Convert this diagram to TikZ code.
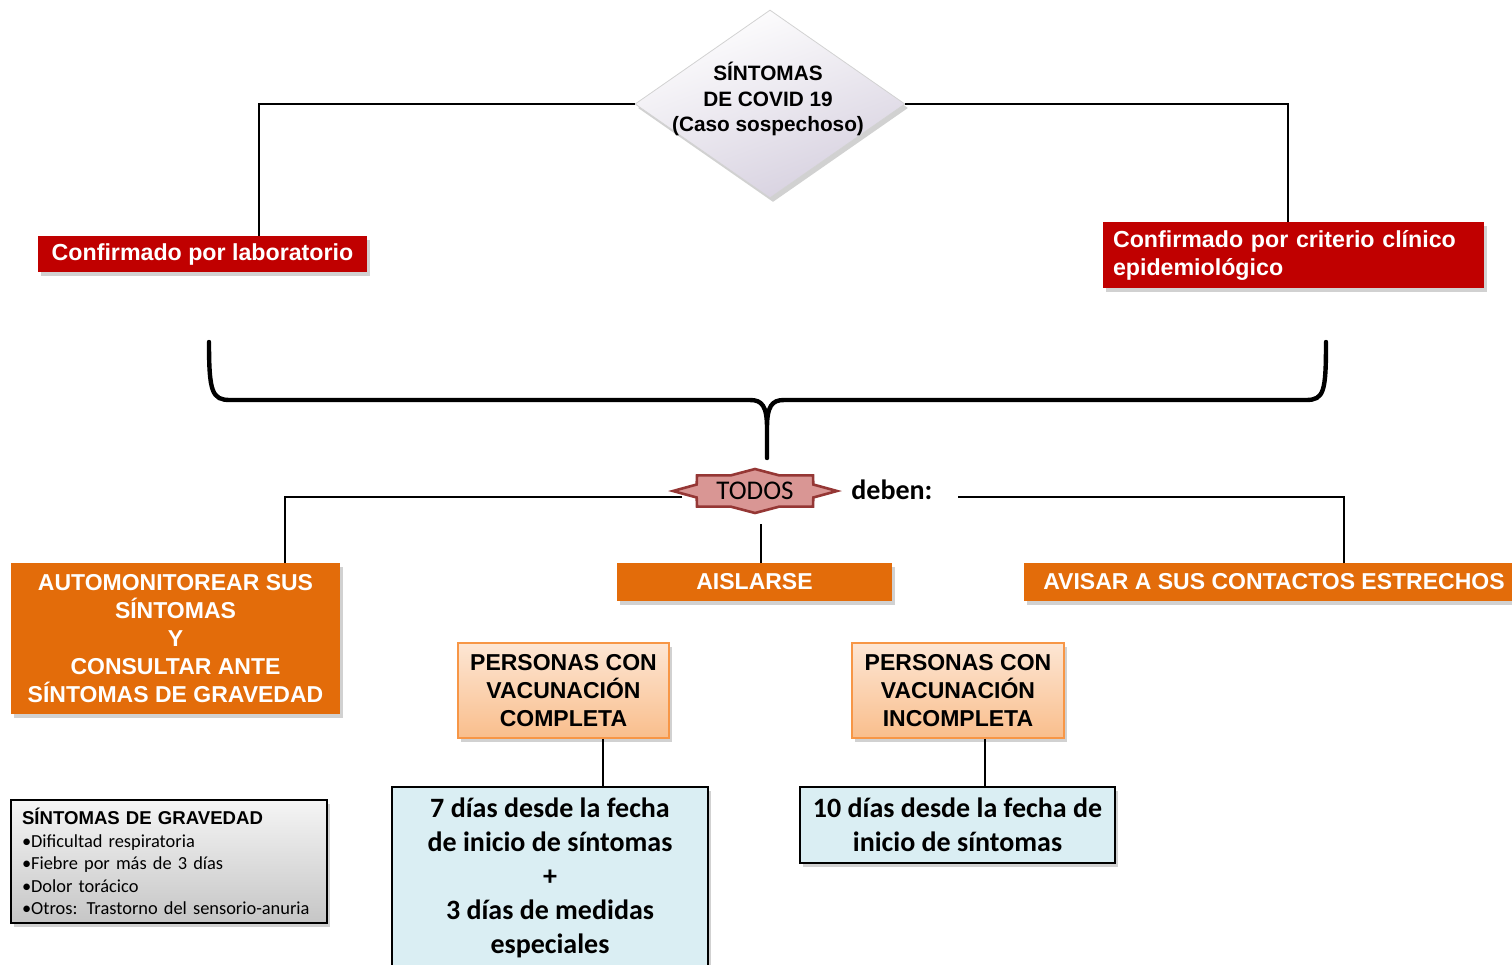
\documentclass[tikz,border=0pt]{standalone}
\usepackage{fontspec}
\setmainfont{Liberation Sans}
\newfontfamily\arial{Liberation Sans}
\newfontfamily\calibri{Carlito}
\usetikzlibrary{positioning,calc,shapes.geometric,shadows}

\definecolor{rojo}{HTML}{C00000}
\definecolor{naranja}{HTML}{E36C0A}
\definecolor{bordedurazno}{HTML}{F79646}
\definecolor{durazno1}{HTML}{FDE6D4}
\definecolor{durazno2}{HTML}{F9BE8C}
\definecolor{celeste}{HTML}{DAEEF3}
\definecolor{rosa}{HTML}{D99694}
\definecolor{granate}{HTML}{953735}
\definecolor{lavanda}{HTML}{D6D0DF}

\tikzset{
	linea/.style={draw=black, line width=1pt},
	sombra/.style={drop shadow={shadow xshift=1.5pt, shadow yshift=-2pt, opacity=0.3, fill=black!60}},
	caja/.style={rectangle, inner sep=0pt, align=center},
	rojabox/.style={caja, fill=rojo, text=white, font=\bfseries\fontsize{11.6}{14}\selectfont, sombra},
	naranjabox/.style={caja, fill=naranja, text=white, font=\bfseries\fontsize{11.5}{14}\selectfont, sombra},
	duraznobox/.style={caja, top color=durazno1, bottom color=durazno2, draw=bordedurazno, line width=0.75pt, font=\bfseries\fontsize{11.5}{14}\selectfont, sombra},
	celestebox/.style={caja, fill=celeste, draw=black, line width=1pt, font=\calibri\bfseries\fontsize{14}{17}\selectfont, sombra},
}

\begin{document}
\begin{tikzpicture}[x=0.5pt, y=-0.5pt]
	\useasboundingbox (0,0) rectangle (1512,965);
	\def \ratio {0.77} % inner points of the star
	
	% top decision
	\node[diamond, minimum width=135pt, minimum height=94pt, inner sep=0pt, top color=white, bottom color=lavanda, shading angle=20, draw=gray!35, line width=0.4pt, sombra] (sintomas) at (770,104) {};
	\node[align=center, font=\bfseries\fontsize{10.4}{12.75}\selectfont] (sintomastxt) at (768,99) {SÍNTOMAS\\DE COVID 19\\(Caso sospechoso)};
	
	\node[rojabox, minimum width=164.5pt, minimum height=18pt] (lab) at (202.5,254) {Confirmado por laboratorio};
	\node[rojabox, text width=180.5pt, inner xsep=5pt, minimum height=33pt, align=left] (clinico) at (1293.5,255) {Confirmado por criterio clínico\\epidemiológico};
	
	\draw[linea] (sintomas.west) -| ([xshift=28.25pt]lab.north);
	\draw[linea] (sintomas.east) -| ([xshift=-2.75pt]clinico.north);
	
	% brace
	\coordinate (llaveizq) at (209,342);
	\coordinate (llaveder) at (1326,342);
	\coordinate (punta) at (767,458);
	\draw[line width=2.2pt, line cap=round] (llaveizq) .. controls (209,392) and (212,400) .. (230,400) -- (750,400) .. controls (762,400) and (767,406) .. (767,428) -- (punta)
		(767,428) .. controls (767,406) and (772,400) .. (784,400) -- (1306,400) .. controls (1324,400) and (1326,392) .. (llaveder);
	
	% star
	\coordinate (todosc) at (755,491);
	\draw[fill=rosa, draw=granate, line width=1.3pt] ($(todosc)+(0:82 and 22)$)
		\foreach \k [evaluate=\k as \rad using {1-(1-\ratio)*mod(\k,2)}] in {1,...,15} { -- ($(todosc)+({22.5*\k}:{82*\rad} and {22*\rad})$) } -- cycle;
	\node[font=\calibri\fontsize{13.5}{16}\selectfont, inner sep=1pt] (todos) at (todosc) {TODOS};
	\node[font=\calibri\bfseries\fontsize{14}{16}\selectfont, inner sep=1pt, base right=26.5pt of todos] (deben) {deben:};
	
	\node[naranjabox, minimum width=164.5pt, minimum height=75.5pt] (automon) at (175.5,638.5) {AUTOMONITOREAR SUS\\SÍNTOMAS\\Y\\CONSULTAR ANTE\\SÍNTOMAS DE GRAVEDAD};
	\node[naranjabox, minimum width=137.5pt, minimum height=19pt] (aislarse) at (754.5,582) {AISLARSE};
	\node[naranjabox, minimum width=250pt, minimum height=19pt] (avisar) at (1274,582) {AVISAR A SUS CONTACTOS ESTRECHOS};
	
	\coordinate (ramaizq) at (682,497);
	\coordinate (ramader) at (958,497);
	\coordinate (ramacentro) at (761,524);
	\draw[linea] (ramaizq) -| ([xshift=54.75pt]automon.north);
	\draw[linea] (ramader) -| ([xshift=35pt]avisar.north);
	\draw[linea] (ramacentro) -- (ramacentro |- aislarse.north);
	
	\node[duraznobox, minimum width=105.5pt, minimum height=47.5pt] (completa) at (563.5,690.5) {PERSONAS CON\\VACUNACIÓN\\COMPLETA};
	\node[duraznobox, minimum width=106pt, minimum height=47.5pt] (incompleta) at (958,690.5) {PERSONAS CON\\VACUNACIÓN\\INCOMPLETA};
	
	\node[celestebox, minimum width=158pt, minimum height=90.5pt] (siete) at (550,877.5) {7 días desde la fecha\\de inicio de síntomas\\+\\3 días de medidas\\especiales};
	\node[celestebox, minimum width=157.5pt, minimum height=38pt] (diez) at (957.5,825) {10 días desde la fecha de\\inicio de síntomas};
	
	\draw[linea] ([xshift=19.75pt]completa.south) -- ([xshift=19.75pt]completa.south |- siete.north);
	\draw[linea] ([xshift=13.5pt]incompleta.south) -- ([xshift=13.5pt]incompleta.south |- diez.north);
	
	% legend
	\node[caja, align=left, text width=147pt, inner xsep=5.5pt, minimum height=61.5pt, top color=gray!8, bottom color=gray!45, draw=black, line width=1pt, sombra, font=\calibri\fontsize{9.2}{11.25}\selectfont] (gravedad) at (169,861.5) {{\arial\bfseries\fontsize{9.3}{11.25}\selectfont SÍNTOMAS DE GRAVEDAD}\\•Dificultad respiratoria\\•Fiebre por más de 3 días\\•Dolor torácico\\•Otros: Trastorno del sensorio-anuria};
\end{tikzpicture}
\end{document}
